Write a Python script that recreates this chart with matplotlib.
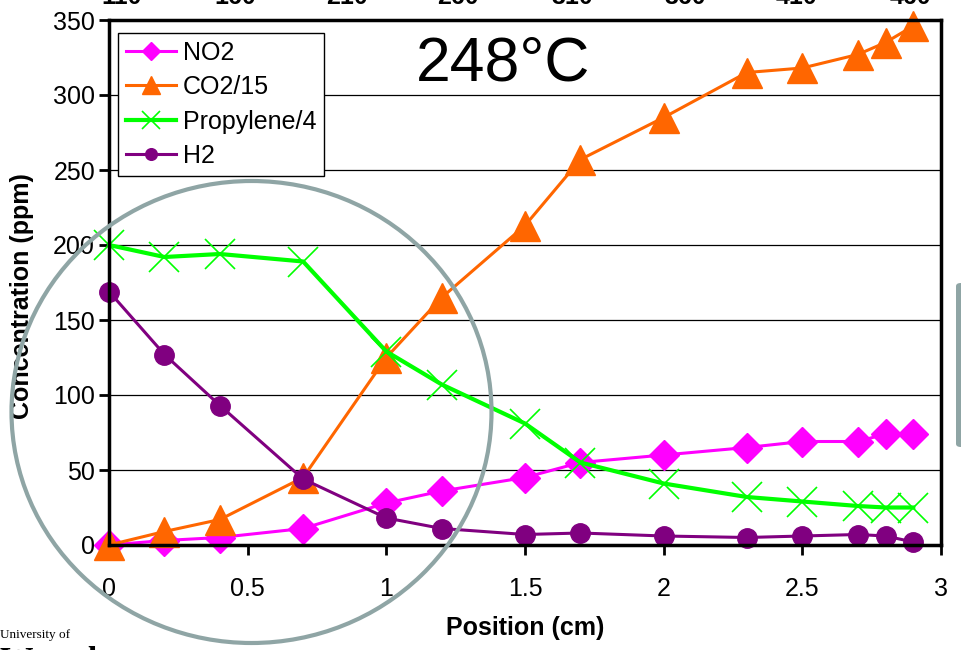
import numpy as np
import matplotlib
matplotlib.use("Agg")
import matplotlib.pyplot as plt
from matplotlib.patches import Ellipse, FancyBboxPatch

plt.rcParams['font.family'] = ['Liberation Sans', 'DejaVu Sans']

# data
position = [0, 0.2, 0.4, 0.7, 1.0, 1.2, 1.5, 1.7, 2.0, 2.3, 2.5, 2.7, 2.8, 2.9]
no2 = [0, 3, 5, 11, 28, 36, 45, 55, 60, 65, 69, 69, 74, 74]
co2_15 = [0, 9, 17, 45, 125, 165, 213, 257, 285, 315, 318, 327, 335, 346]
propylene_4 = [200, 192, 194, 189, 129, 107, 81, 55, 41, 32, 29, 26, 25, 25]
h2 = [169, 127, 93, 44, 18, 11, 7, 8, 6, 5, 6, 7, 6, 2]

top_labels = ["110", "160", "210", "260", "310", "360", "410", "460"]
top_label_px = [122, 235, 347, 458, 572, 685, 797, 910]

W, H = 961, 650
fig = plt.figure(figsize=(W/100, H/100), dpi=100)
ax = fig.add_axes([109/W, 1-545/H, (941-109)/W, (545-20)/H])

ax.plot(position, no2, color='#ff00ff', lw=2.2, marker='D', ms=15,
        label='NO2')
ax.plot(position, co2_15, color='#ff6600', lw=2.2, marker='^', ms=21,
        label='CO2/15')
ax.plot(position, propylene_4, color='#00ff00', lw=3, marker='x', ms=21,
        mew=1.2, label='Propylene/4')
ax.plot(position, h2, color='#800080', lw=2.2, marker='o', ms=14,
        label='H2')

ax.set_xlim(0, 3)
ax.set_ylim(0, 350)
ax.set_xticks(np.arange(0, 3.01, 0.5))
ax.set_xticklabels(['0', '0.5', '1', '1.5', '2', '2.5', '3'])
ax.set_yticks(np.arange(0, 351, 50))
ax.tick_params(axis='both', labelsize=18, direction='out', length=7,
               width=2)
ax.tick_params(axis='x', pad=16)
ax.tick_params(axis='y', pad=3)
ax.yaxis.grid(True, color='black', lw=0.9)
ax.set_axisbelow(True)
for s in ax.spines.values():
    s.set_linewidth(2.5)
    s.set_clip_on(False)
for p in ax.get_lines():
    p.set_clip_on(False)

ax.set_xlabel('Position (cm)', fontsize=18, fontweight='bold')
ax.xaxis.label.set_va('center')
ax.xaxis.set_label_coords(0.5, -0.158)
ax.set_ylabel('Concentration (ppm)', fontsize=18, fontweight='bold')
ax.yaxis.label.set_va('center')
ax.yaxis.set_label_coords(-0.1046, 0.475)

leg = ax.legend(loc='upper left', bbox_to_anchor=(9/832, 1-13/525),
                borderaxespad=0, fontsize=18, markerscale=0.6,
                fancybox=False, edgecolor='black', framealpha=1,
                handlelength=2.0, handletextpad=0.3, labelspacing=0.42,
                borderpad=0.3)
leg.get_frame().set_linewidth(1)

fig.text(503/W, 1-64/H, '248°C', fontsize=45, ha='center', va='center')

for lab, px in zip(top_labels, top_label_px):
    fig.text(px/W, 1-4/H, lab, fontsize=18, fontweight='bold',
             ha='center', va='baseline')

# grey circle drawn over the chart
gray = '#8fa5a5'
fig.patches.append(Ellipse((251.5/W, 1-412/H), 480/W, 462/H, fill=False,
                           edgecolor=gray, lw=3, transform=fig.transFigure,
                           zorder=10))
fig.patches.append(FancyBboxPatch((956/W, 1-447/H), 12/W, 164/H,
                                  boxstyle='round,pad=0,rounding_size=0.005',
                                  facecolor=gray, edgecolor='none',
                                  transform=fig.transFigure, zorder=10))

fig.text(0, 1-638/H, 'University of', fontsize=9.5,
         family=['Liberation Serif'], va='baseline')
fig.text(0, 1-670/H, 'Waterloo', fontsize=24, fontweight='bold',
         family=['Liberation Serif'], va='baseline')

fig.savefig('out.png', dpi=100)
